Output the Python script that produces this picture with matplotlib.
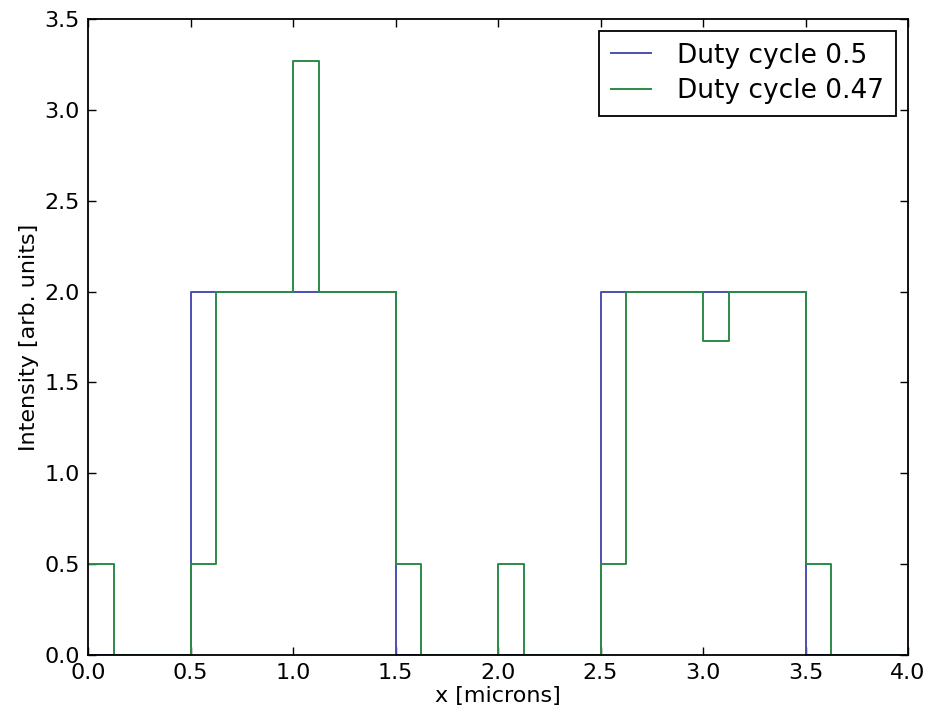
import numpy as np
import matplotlib.pyplot as plt

# step edges (microns) and intensity levels
edges_50 = [0.0, 0.5, 1.5, 2.5, 3.5, 4.0]
level_50 = [0.0, 2.0, 0.0, 2.0, 0.0]

edges_47 = [0.0, 0.125, 0.5, 0.625, 1.0, 1.125, 1.5, 1.625, 2.0, 2.125,
            2.5, 2.625, 3.0, 3.125, 3.5, 3.625, 4.0]
level_47 = [0.5, 0.0, 0.5, 2.0, 3.27, 2.0, 0.5, 0.0, 0.5, 0.0,
            0.5, 2.0, 1.73, 2.0, 0.5, 0.0]

plt.rcParams['font.family'] = 'DejaVu Sans'
plt.rcParams['font.size'] = 16

fig = plt.figure(figsize=(9.27, 7.13), dpi=100)
ax = fig.add_axes([0.095, 0.0813, 0.8845, 0.8921])

ax.plot(edges_50, level_50 + [level_50[-1]], drawstyle='steps-post',
        color='#4b4fb0', linewidth=1.4, label='Duty cycle 0.5')
ax.plot(edges_47, level_47 + [level_47[-1]], drawstyle='steps-post',
        color='#2a8c45', linewidth=1.4, label='Duty cycle 0.47')

ax.set_xlim(0, 4)
ax.set_ylim(0, 3.5)
ax.set_xticks(np.arange(0, 4.01, 0.5))
ax.set_yticks(np.arange(0, 3.51, 0.5))
ax.xaxis.set_major_formatter(plt.FormatStrFormatter('%.1f'))
ax.yaxis.set_major_formatter(plt.FormatStrFormatter('%.1f'))
ax.tick_params(direction='in', top=True, right=True, length=6, width=1,
               labelsize=16, pad=6)
for s in ax.spines.values():
    s.set_linewidth(1.3)

ax.set_xlabel('x [microns]', fontsize=16, labelpad=2)
ax.set_ylabel('Intensity [arb. units]', fontsize=16, labelpad=4)

leg = ax.legend(loc='upper right', fontsize=19, fancybox=False,
                framealpha=1, borderaxespad=0.45, handlelength=1.5,
                handletextpad=1.0, borderpad=0.45, labelspacing=0.35)
leg.get_frame().set_edgecolor('black')
leg.get_frame().set_linewidth(1.3)

fig.savefig('out.png', dpi=100)
